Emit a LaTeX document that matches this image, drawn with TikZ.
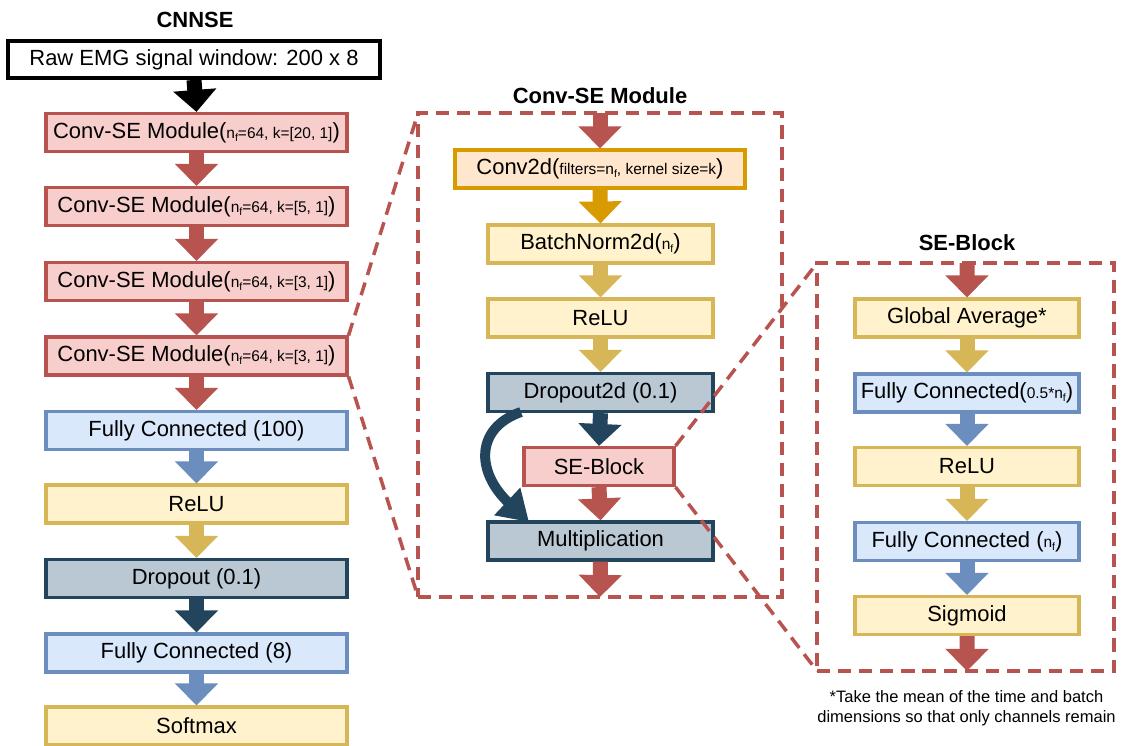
\documentclass[tikz,border=0pt]{standalone}
\usepackage{fontspec}
\setmainfont{Liberation Sans}
\usetikzlibrary{arrows.meta}

\definecolor{redfill}{HTML}{F8CECC}
\definecolor{redline}{HTML}{B85450}
\definecolor{bluefill}{HTML}{DAE8FC}
\definecolor{blueline}{HTML}{6C8EBF}
\definecolor{yelfill}{HTML}{FFF2CC}
\definecolor{yelline}{HTML}{D6B656}
\definecolor{darkfill}{HTML}{BAC8D3}
\definecolor{darkline}{HTML}{23445D}
\definecolor{orgfill}{HTML}{FFE6CC}
\definecolor{orgline}{HTML}{D79B00}

\newcommand{\sm}[1]{{\fontsize{8.8}{10}\selectfont #1}}
\newcommand{\nf}{n\raisebox{-0.35ex}{\fontsize{6}{7}\selectfont f}}

\tikzset{
  layer/.style={draw, line width=1.8pt, minimum height=0.76cm, inner sep=0pt,
    font=\fontsize{12.5}{14}\selectfont},
  convse/.style={layer, draw=redline, fill=redfill},
  fcbox/.style={layer, draw=blueline, fill=bluefill},
  actbox/.style={layer, draw=yelline, fill=yelfill},
  dropbox/.style={layer, draw=darkline, fill=darkfill},
  convbox/.style={layer, draw=orgline, fill=orgfill},
  ttl/.style={font=\fontsize{12.5}{14}\selectfont\bfseries},
  dashbox/.style={draw=redline, line width=2pt, dash pattern=on 7.5pt off 4.5pt,
    inner sep=0pt, outer sep=0pt},
  zoomline/.style={draw=redline, line width=2pt, dash pattern=on 7.5pt off 4.5pt},
  blk/.style={line width=0.3cm, -{Triangle[width=0.84cm,length=0.44cm]}},
}

\begin{document}
\begin{tikzpicture}[x=0.02cm, y=-0.02cm]
\useasboundingbox (0,0) rectangle (1123,745);

% CNNSE column
\node[ttl] (t1) at (195,20) {CNNSE};
\node[layer, draw=black, line width=2.2pt, fill=white, minimum width=7.44cm, minimum height=0.74cm] (raw) at (194,59.5) {Raw EMG signal window: 200 x 8};
\node[convse, minimum width=6.02cm] (c1) at (196.5,132.5) {Conv-SE Module(\sm{\nf=64, k=[20, 1]})};
\node[convse, minimum width=6.02cm] (c2) at (196.5,206.5) {Conv-SE Module(\sm{\nf=64, k=[5, 1]})};
\node[convse, minimum width=6.02cm] (c3) at (196.5,281.5) {Conv-SE Module(\sm{\nf=64, k=[3, 1]})};
\node[convse, minimum width=6.02cm] (c4) at (196.5,356) {Conv-SE Module(\sm{\nf=64, k=[3, 1]})};
\node[fcbox, minimum width=6.02cm] (fc1) at (196.5,430.5) {Fully Connected (100)};
\node[actbox, minimum width=6.02cm] (relu1) at (196.5,504) {ReLU};
\node[dropbox, minimum width=6.02cm] (drop1) at (196.5,578.5) {Dropout (0.1)};
\node[fcbox, minimum width=6.02cm] (fc2) at (196.5,653) {Fully Connected (8)};
\node[actbox, minimum width=6.02cm] (soft) at (196.5,726) {Softmax};

\draw[blk, black] (raw.south) -- (c1.north);
\draw[blk, redline] (c1.south) -- (c2.north);
\draw[blk, redline] (c2.south) -- (c3.north);
\draw[blk, redline] (c3.south) -- (c4.north);
\draw[blk, redline] (c4.south) -- (fc1.north);
\draw[blk, blueline] (fc1.south) -- (relu1.north);
\draw[blk, yelline] (relu1.south) -- (drop1.north);
\draw[blk, darkline] (drop1.south) -- (fc2.north);
\draw[blk, blueline] (fc2.south) -- (soft.north);

% Conv-SE module
\node[ttl] (t2) at (600,96) {Conv-SE Module};
\node[dashbox, minimum width=7.28cm, minimum height=9.68cm] (modbox) at (600,355) {};
\node[convbox, minimum width=5.8cm] (conv) at (600,169) {Conv2d(\sm{filters=\nf, kernel size=k})};
\node[actbox, minimum width=4.5cm] (bn) at (600.5,244) {BatchNorm2d(\sm{\nf})};
\node[actbox, minimum width=4.5cm] (relu2) at (600.5,318) {ReLU};
\node[dropbox, minimum width=4.5cm] (drop2) at (600.5,392.5) {Dropout2d (0.1)};
\node[convse, minimum width=3cm] (se) at (599,466.5) {SE-Block};
\node[dropbox, minimum width=4.5cm] (mult) at (600.5,541) {Multiplication};
\coordinate (skipa) at (521,412);
\coordinate (skipb) at (529,522);

\draw[blk, redline] (modbox.north) -- (conv.north);
\draw[blk, orgline] (conv.south) -- (bn.north);
\draw[blk, yelline] (bn.south) -- (relu2.north);
\draw[blk, yelline] (relu2.south) -- (drop2.north);
\draw[blk, darkline] (drop2.south) -- (se.north);
\draw[blk, redline] (se.south) -- (mult.north);
\draw[blk, redline] (mult.south) -- (modbox.south);
\draw[darkline, line width=0.2cm, -{Triangle[width=0.72cm,length=0.6cm]}]
  (skipa) .. controls (475,428) and (476,472) .. (skipb);

% SE-Block
\node[ttl] (t3) at (967,243) {SE-Block};
\node[dashbox, minimum width=5.94cm, minimum height=8.16cm] (sebox) at (965.5,467) {};
\node[actbox, minimum width=4.48cm] (ga) at (967,318) {Global Average*};
\node[fcbox, minimum width=4.48cm] (fc3) at (967,393) {Fully Connected(\sm{0.5*\nf})};
\node[actbox, minimum width=4.48cm] (relu3) at (967,466.5) {ReLU};
\node[fcbox, minimum width=4.48cm] (fc4) at (967,541.5) {Fully Connected (\sm{\nf})};
\node[actbox, minimum width=4.48cm] (sig) at (967,615.5) {Sigmoid};
\node[align=center, font=\fontsize{9.4}{11.3}\selectfont] (note) at (966.5,708) {*Take the mean of the time and batch\\dimensions so that only channels remain};

\draw[blk, redline] ([xshift=0.03cm]sebox.north) -- (ga.north);
\draw[blk, yelline] (ga.south) -- (fc3.north);
\draw[blk, blueline] (fc3.south) -- (relu3.north);
\draw[blk, yelline] (relu3.south) -- (fc4.north);
\draw[blk, blueline] (fc4.south) -- (sig.north);
\draw[blk, redline] (sig.south) -- ([xshift=0.03cm]sebox.south);

% zoom lines
\draw[zoomline] (c4.north east) -- (modbox.north west);
\draw[zoomline] (c4.south east) -- (modbox.south west);
\draw[zoomline] (se.north east) -- (sebox.north west);
\draw[zoomline] (se.south east) -- (sebox.south west);
\end{tikzpicture}
\end{document}
